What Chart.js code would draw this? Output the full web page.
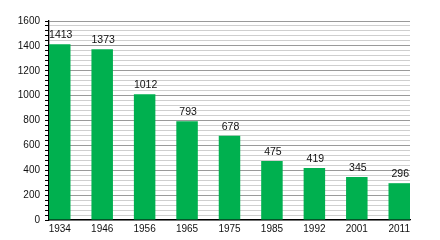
<!DOCTYPE html>
<html>
<head>
<meta charset="utf-8">
<script src="https://cdn.jsdelivr.net/npm/chart.js@4"></script>
<style>
  html, body { margin: 0; padding: 0; background: #fff; }
  #wrap { width: 440px; height: 240px; }
</style>
</head>
<body>
<div id="wrap"><canvas id="c" width="440" height="240"></canvas></div>
<script>
// Data
const years = ['1934', '1946', '1956', '1965', '1975', '1985', '1992', '2001', '2011'];
const population = [1413, 1373, 1012, 793, 678, 475, 419, 345, 296];
const yTickLabels = [0, 200, 400, 600, 800, 1000, 1200, 1400, 1600];

const FONT = '"Liberation Sans", Arial, Helvetica, sans-serif';

const valueLabels = {
  id: 'valueLabels',
  afterDatasetsDraw(chart) {
    const ctx = chart.ctx;
    const meta = chart.getDatasetMeta(0);
    ctx.save();
    ctx.font = '10.5px ' + FONT;
    ctx.fillStyle = '#111';
    ctx.textAlign = 'center';
    ctx.textBaseline = 'alphabetic';
    meta.data.forEach((bar, i) => {
      ctx.fillText(String(chart.data.datasets[0].data[i].y), bar.x + 1, bar.y - 6);
    });
    ctx.restore();
  }
};

// half bar width in axis units so the first bar touches the y axis
const HALF = 0.2533;

new Chart(document.getElementById('c'), {
  type: 'bar',
  data: {
    datasets: [{
      data: population.map((v, i) => ({ x: i, y: v })),
      backgroundColor: '#00b04f',
      borderWidth: 0,
      categoryPercentage: 1,
      barPercentage: 0.5066
    }]
  },
  plugins: [valueLabels],
  options: {
    responsive: false,
    animation: false,
    layout: { padding: { left: 0, right: 30, top: 21, bottom: 0 } },
    plugins: { legend: { display: false }, tooltip: { enabled: false } },
    scales: {
      x: {
        type: 'linear',
        offset: false,
        min: -HALF,
        max: years.length - 1 + HALF,
        afterBuildTicks(scale) { scale.ticks = years.map((_, i) => ({ value: i })); },
        afterFit(scale) { scale.height = 20; },
        grid: { display: false, drawTicks: false, tickLength: 0 },
        border: { display: true, color: '#000', width: 1.3 },
        ticks: {
          autoSkip: false,
          maxRotation: 0,
          padding: 3,
          color: '#111',
          font: { family: FONT, size: 10 },
          callback: (v) => years[v]
        }
      },
      y: {
        min: 0,
        max: 1600,
        afterBuildTicks(scale) {
          const t = [];
          for (let v = 0; v <= 1600; v += 40) t.push({ value: v });
          scale.ticks = t;
        },
        afterFit(scale) { scale.width = 49; },
        border: { display: true, color: '#000', width: 1.3 },
        grid: {
          color: (c) => (c.tick && c.tick.value % 200 === 0) ? '#9a9a9a' : '#cfcfcf',
          lineWidth: 1,
          tickColor: '#000',
          tickLength: 4,
          drawTicks: true
        },
        ticks: {
          autoSkip: false,
          padding: 5,
          color: '#111',
          font: { family: FONT, size: 10 },
          callback: (v) => yTickLabels.includes(v) ? String(v) : ''
        }
      }
    }
  }
});
</script>
</body>
</html>
